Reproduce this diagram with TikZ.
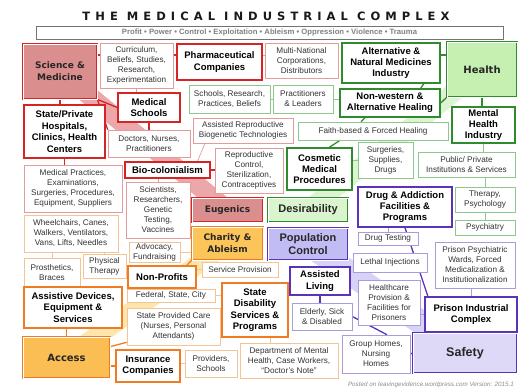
\documentclass[tikz,border=0pt]{standalone}
\usepackage{fontspec}
\setmainfont{Liberation Sans}
\newfontfamily\hubfont{DejaVu Sans}
\newfontfamily\titlefont{DejaVu Sans}[LetterSpace=44]
\usetikzlibrary{backgrounds}

\definecolor{redd}{HTML}{D42424}
\definecolor{redl}{HTML}{E39C9C}
\definecolor{redf}{HTML}{DB8E8E}
\definecolor{redb}{HTML}{EBA7A9}
\definecolor{greend}{HTML}{2E8B2E}
\definecolor{greenl}{HTML}{8DC98D}
\definecolor{greenf}{HTML}{C6F0B2}
\definecolor{greenb}{HTML}{DDF3D2}
\definecolor{orad}{HTML}{EF7B22}
\definecolor{oral}{HTML}{F2C496}
\definecolor{oraf}{HTML}{FBC55A}
\definecolor{orab}{HTML}{FDE6AC}
\definecolor{purd}{HTML}{5B33B8}
\definecolor{purl}{HTML}{AA9CDA}
\definecolor{purf}{HTML}{C2BCF4}
\definecolor{purb}{HTML}{D7D2F7}

\tikzset{
  spot/.style n args={4}{minimum width={#3-#1}, minimum height={#4-#2},
    at={({(#1+#3)/2},{(#2+#4)/2})}},
  sbox/.style={draw=#1, line width=0.6pt, fill=white, align=center, inner sep=1pt,
    text=black!80, font=\fontsize{8.2}{10}\selectfont},
  bbox/.style={draw=#1, line width=1.5pt, fill=white, align=center, inner sep=1pt,
    font=\fontsize{9.5}{11.4}\selectfont\bfseries},
  hub/.style 2 args={draw=#1, double=white, double distance=0.9pt, line width=0.8pt,
    fill=#2, align=center, inner sep=1pt, text=black!85,
    font=\hubfont\fontsize{9}{12}\selectfont\bfseries},
  band/.style={line width=19pt, draw=#1},
  wire/.style={draw=#1, line width=1.3pt},
  lite/.style={draw=#1, line width=0.7pt},
}

\begin{document}
\begin{tikzpicture}[x=1pt,y=-1pt]
  \useasboundingbox (0,0) rectangle (527,389);
  % heading
  \node[font=\titlefont\bfseries\fontsize{11.5}{12}\selectfont, text=black!90] (title) at (266,16) {THE MEDICAL INDUSTRIAL COMPLEX};
  \node[draw=black!55, line width=0.6pt, inner sep=0pt, text=black!50, font=\fontsize{7.7}{8}\selectfont\bfseries, spot={36}{26}{503}{39}] (motto) {Profit • Power • Control • Exploitation • Ableism • Oppression • Violence • Trauma};

  % top row
  \node[hub={redd}{redf}, spot={23}{44}{97}{99}] (sci) {Science \&\\Medicine};
  \node[sbox=redl, spot={100}{43}{173}{88}] (curr) {Curriculum,\\Beliefs, Studies,\\Research,\\Experimentation};
  \node[bbox=redd, spot={177}{44}{262}{80}] (pharm) {Pharmaceutical\\Companies};
  \node[sbox=redl, spot={265}{43}{338}{78}] (multi) {Multi-National\\Corporations,\\Distributors};
  \node[bbox=greend, spot={342}{43}{440}{83}] (alt) {Alternative \&\\Natural Medicines\\Industry};
  \node[hub={greend}{greenf}, font=\hubfont\fontsize{10}{12}\selectfont\bfseries, spot={447}{42}{517}{97}] (health) {Health};

  % upper middle
  \node[bbox=redd, spot={118}{93}{180}{122}] (msch) {Medical\\Schools};
  \node[sbox=greenl, spot={189}{85}{270}{113}] (schr) {Schools, Research,\\Practices, Beliefs};
  \node[sbox=greenl, spot={273}{85}{333}{113}] (prac) {Practitioners\\\& Leaders};
  \node[bbox=greend, spot={340}{89}{440}{117}] (nonw) {Non-western \&\\Alternative Healing};
  \node[bbox=redd, spot={24}{105}{105}{158}] (hosp) {State/Private\\Hospitals,\\Clinics, Health\\Centers};
  \node[sbox=redl, spot={108}{130}{190}{157}] (doct) {Doctors, Nurses,\\Practitioners};
  \node[sbox=redl, spot={193}{118}{293}{143}] (ast) {Assisted Reproductive\\Biogenetic Technologies};
  \node[sbox=greenl, spot={298}{122}{448}{140}] (faith) {Faith-based \& Forced Healing};
  \node[bbox=greend, spot={452}{107}{515}{143}] (ment) {Mental\\Health\\Industry};
  \node[bbox=greend, spot={287}{148}{352}{190}] (cosm) {Cosmetic\\Medical\\Procedures};
  \node[sbox=greenl, spot={358}{142}{413}{178}] (surg) {Surgeries,\\Supplies,\\Drugs};
  \node[sbox=greenl, spot={418}{152}{515}{177}] (pubp) {Public/ Private\\Institutions \& Services};
  \node[bbox=redd, spot={125}{162}{210}{178}] (bioc) {Bio-colonialism};
  \node[sbox=redl, spot={215}{148}{283}{193}] (repr) {Reproductive\\Control,\\Sterilization,\\Contraceptives};
  \node[sbox=redl, spot={24}{165}{122}{212}] (mprac) {Medical Practices,\\Examinations,\\Surgeries, Procedures,\\Equipment, Suppliers};
  \node[sbox=redl, spot={126}{182}{190}{238}] (scien) {Scientists,\\Researchers,\\Genetic\\Testing,\\Vaccines};

  % centre hubs
  \node[hub={redd}{redf}, spot={192}{198}{263}{222}] (eug) {Eugenics};
  \node[hub={greend}{greenf!65}, font=\fontsize{11}{13}\selectfont\bfseries, spot={268}{198}{348}{222}] (desir) {Desirability};
  \node[hub={orad}{oraf}, spot={192}{227}{263}{260}] (char) {Charity \&\\Ableism};
  \node[hub={purd}{purf}, font=\fontsize{11}{13}\selectfont\bfseries, spot={268}{228}{348}{260}] (popc) {Population\\Control};

  % lower middle
  \node[bbox=purd, spot={358}{187}{452}{227}] (drug) {Drug \& Addiction\\Facilities \&\\Programs};
  \node[sbox=greenl, spot={455}{187}{515}{212}] (ther) {Therapy,\\Psychology};
  \node[sbox=greenl, spot={455}{220}{515}{235}] (psy) {Psychiatry};
  \node[sbox=purl, spot={358}{232}{418}{245}] (dtest) {Drug Testing};
  \node[sbox=oral, spot={24}{215}{118}{252}] (whl) {Wheelchairs, Canes,\\Walkers, Ventilators,\\Vans, Lifts, Needles};
  \node[sbox=oral, spot={129}{242}{180}{262}] (adv) {Advocacy,\\Fundraising};
  \node[sbox=purl, spot={353}{253}{427}{272}] (leth) {Lethal Injections};
  \node[sbox=purl, spot={435}{242}{515}{288}] (ppw) {Prison Psychiatric\\Wards, Forced\\Medicalization \&\\Institutionalization};
  \node[sbox=oral, spot={24}{258}{80}{288}] (pros) {Prosthetics,\\Braces};
  \node[sbox=oral, spot={83}{254}{126}{278}] (phys) {Physical\\Therapy};
  \node[bbox=orad, spot={128}{266}{196}{288}] (nonp) {Non-Profits};
  \node[sbox=oral, spot={202}{262}{278}{277}] (serv) {Service Provision};
  \node[bbox=purd, spot={290}{267}{350}{295}] (asl) {Assisted\\Living};
  \node[sbox=purl, spot={358}{280}{420}{325}] (hcp) {Healthcare\\Provision \&\\Facilities for\\Prisoners};
  \node[bbox=purd, spot={425}{297}{517}{332}] (pic) {Prison Industrial\\Complex};

  % bottom row
  \node[bbox=orad, spot={24}{287}{122}{328}] (assd) {Assistive Devices,\\Equipment \&\\Services};
  \node[sbox=oral, spot={127}{289}{215}{302}] (fed) {Federal, State, City};
  \node[bbox=orad, spot={222}{283}{288}{337}] (sds) {State\\Disability\\Services \&\\Programs};
  \node[sbox=purl, spot={292}{303}{352}{330}] (eld) {Elderly, Sick\\\& Disabled};
  \node[sbox=oral, spot={127}{308}{220}{345}] (spc) {State Provided Care\\(Nurses, Personal\\Attendants)};
  \node[sbox=purl, spot={342}{335}{410}{373}] (grp) {Group Homes,\\Nursing\\Homes};
  \node[hub={purd}{purf!80!purd!40}, font=\fontsize{12.5}{14}\selectfont\bfseries, spot={413}{333}{517}{373}] (safe) {Safety};
  \node[hub={orad}{oraf!90!orad}, font=\hubfont\fontsize{10}{12}\selectfont\bfseries, spot={23}{337}{110}{378}] (acc) {Access};
  \node[bbox=orad, spot={116}{350}{180}{382}] (ins) {Insurance\\Companies};
  \node[sbox=oral, spot={185}{350}{237}{377}] (prov) {Providers,\\Schools};
  \node[sbox=oral, spot={240}{343}{338}{378}] (dept) {Department of Mental\\Health, Case Workers,\\“Doctor’s Note”};

  \node[font=\itshape\fontsize{6.3}{7}\selectfont, text=black!45] (note) at (431,384.5) {Posted on leavingevidence.wordpress.com Version: 2015.1};

  \begin{scope}[on background layer]
    % wide bands from the corner hubs to the centre
    \draw[band=redb] (sci.center) -- (eug.center);
    \draw[band=greenb] (health.center) -- (desir.center);
    \draw[band=orab] (acc.center) -- (char.center);
    \draw[band=purb, line width=24pt] (safe.center) -- (popc.center);

    \coordinate (r1) at (0,55);
    % red
    \draw[wire=redd] (sci.east |- r1) -- (curr.west |- r1);
    \draw[wire=redd] (curr.east |- r1) -- (pharm.west |- r1);
    \draw[lite=redl] (pharm.east |- r1) -- (multi.west |- r1);
    \draw[wire=redd] (sci.south) -- (sci.south |- hosp.north);
    \draw[wire=redd] (sci.south east) -- (msch.west);
    \draw[wire=redd] (sci.south east) -- (doct.north west);
    \draw[lite=redl] (curr.south) -- (curr.south |- msch.north);
    \draw[wire=redd] (msch.south) -- (doct.north);
    \draw[lite=redl] ([xshift=-38pt]ast.south) -- ([xshift=30pt]bioc.north);
    \draw[wire=redd] (bioc.east) -- (bioc.east -| repr.west);
    \draw[lite=redl] (scien.north |- bioc.south) -- (scien.north);
    \draw[wire=redd] (hosp.south) -- (hosp.south |- mprac.north);
    % green
    \draw[wire=greend] (alt.east |- r1) -- (health.west |- r1);
    \draw[lite=greenl] (schr.east) -- (schr.east -| prac.west);
    \draw[lite=greenl] (prac.east) -- (prac.east -| nonw.west);
    \draw[wire=greend] (health.south west) -- (nonw.east);
    \draw[wire=greend] ([xshift=-17pt]alt.south east) -- ([xshift=-20pt]nonw.north east);
    \draw[wire=greend] ([xshift=-25pt]nonw.south) -- ([xshift=-12pt]faith.north);
    \draw[wire=greend] ([xshift=-33pt]faith.south) -- ([xshift=10pt]cosm.north);
    \draw[wire=greend] (health.south) -- (health.south |- ment.north);
    \draw[lite=greenl] (ment.south) -- (ment.south |- pubp.north);
    \draw[lite=greenl] (ther.north |- pubp.south) -- (ther.north);
    \draw[lite=greenl] (ther.south) -- (psy.north);
    \draw[lite=greenl] (cosm.east |- surg.west) -- (surg.west);
    % purple
    \draw[lite=purl] (dtest.north |- drug.south) -- (dtest.north);
    \draw[wire=purd] (drug.south) -- ([xshift=-25pt]safe.north);
    \draw[lite=purl] (pic.north |- ppw.south) -- (pic.north);
    \draw[wire=purd] (pic.south) -- (pic.south |- safe.north);
    \draw[lite=purl] (hcp.east |- pic.west) -- (pic.west);
    \draw[wire=purd] (asl.south) -- (asl.south |- eld.north);
    \draw[wire=purd] (eld.east) -- ([xshift=11pt]grp.north);
    \draw[wire=purd] (grp.east) -- (safe.west);
    % orange
    \draw[lite=oral] (pros.north |- whl.south) -- (pros.north);
    \draw[lite=oral] (phys.north |- whl.south) -- (phys.north);
    \draw[lite=oral] (adv.east) -- (adv.east -| char.west);
    \draw[wire=orad] (char.south west) -- ([xshift=-10pt]nonp.north east);
    \draw[lite=oral] (nonp.east |- serv.west) -- (serv.west);
    \draw[lite=oral] (fed.east) -- (fed.east -| sds.west);
    \draw[wire=orad] (spc.east) -- (spc.east -| sds.west);
    \draw[lite=oral] ([xshift=15pt]sds.south) -- ([xshift=15pt]sds.south |- dept.north);
    \draw[wire=orad] (acc.north) -- (acc.north |- assd.south);
    \draw[wire=orad] (acc.east |- ins.west) -- (ins.west);
    \draw[lite=oral] (ins.east |- prov.west) -- (prov.west);
    \draw[wire=orad] ([yshift=-10pt]acc.north east) -- ([yshift=3pt]spc.south west);
  \end{scope}
\end{tikzpicture}
\end{document}
